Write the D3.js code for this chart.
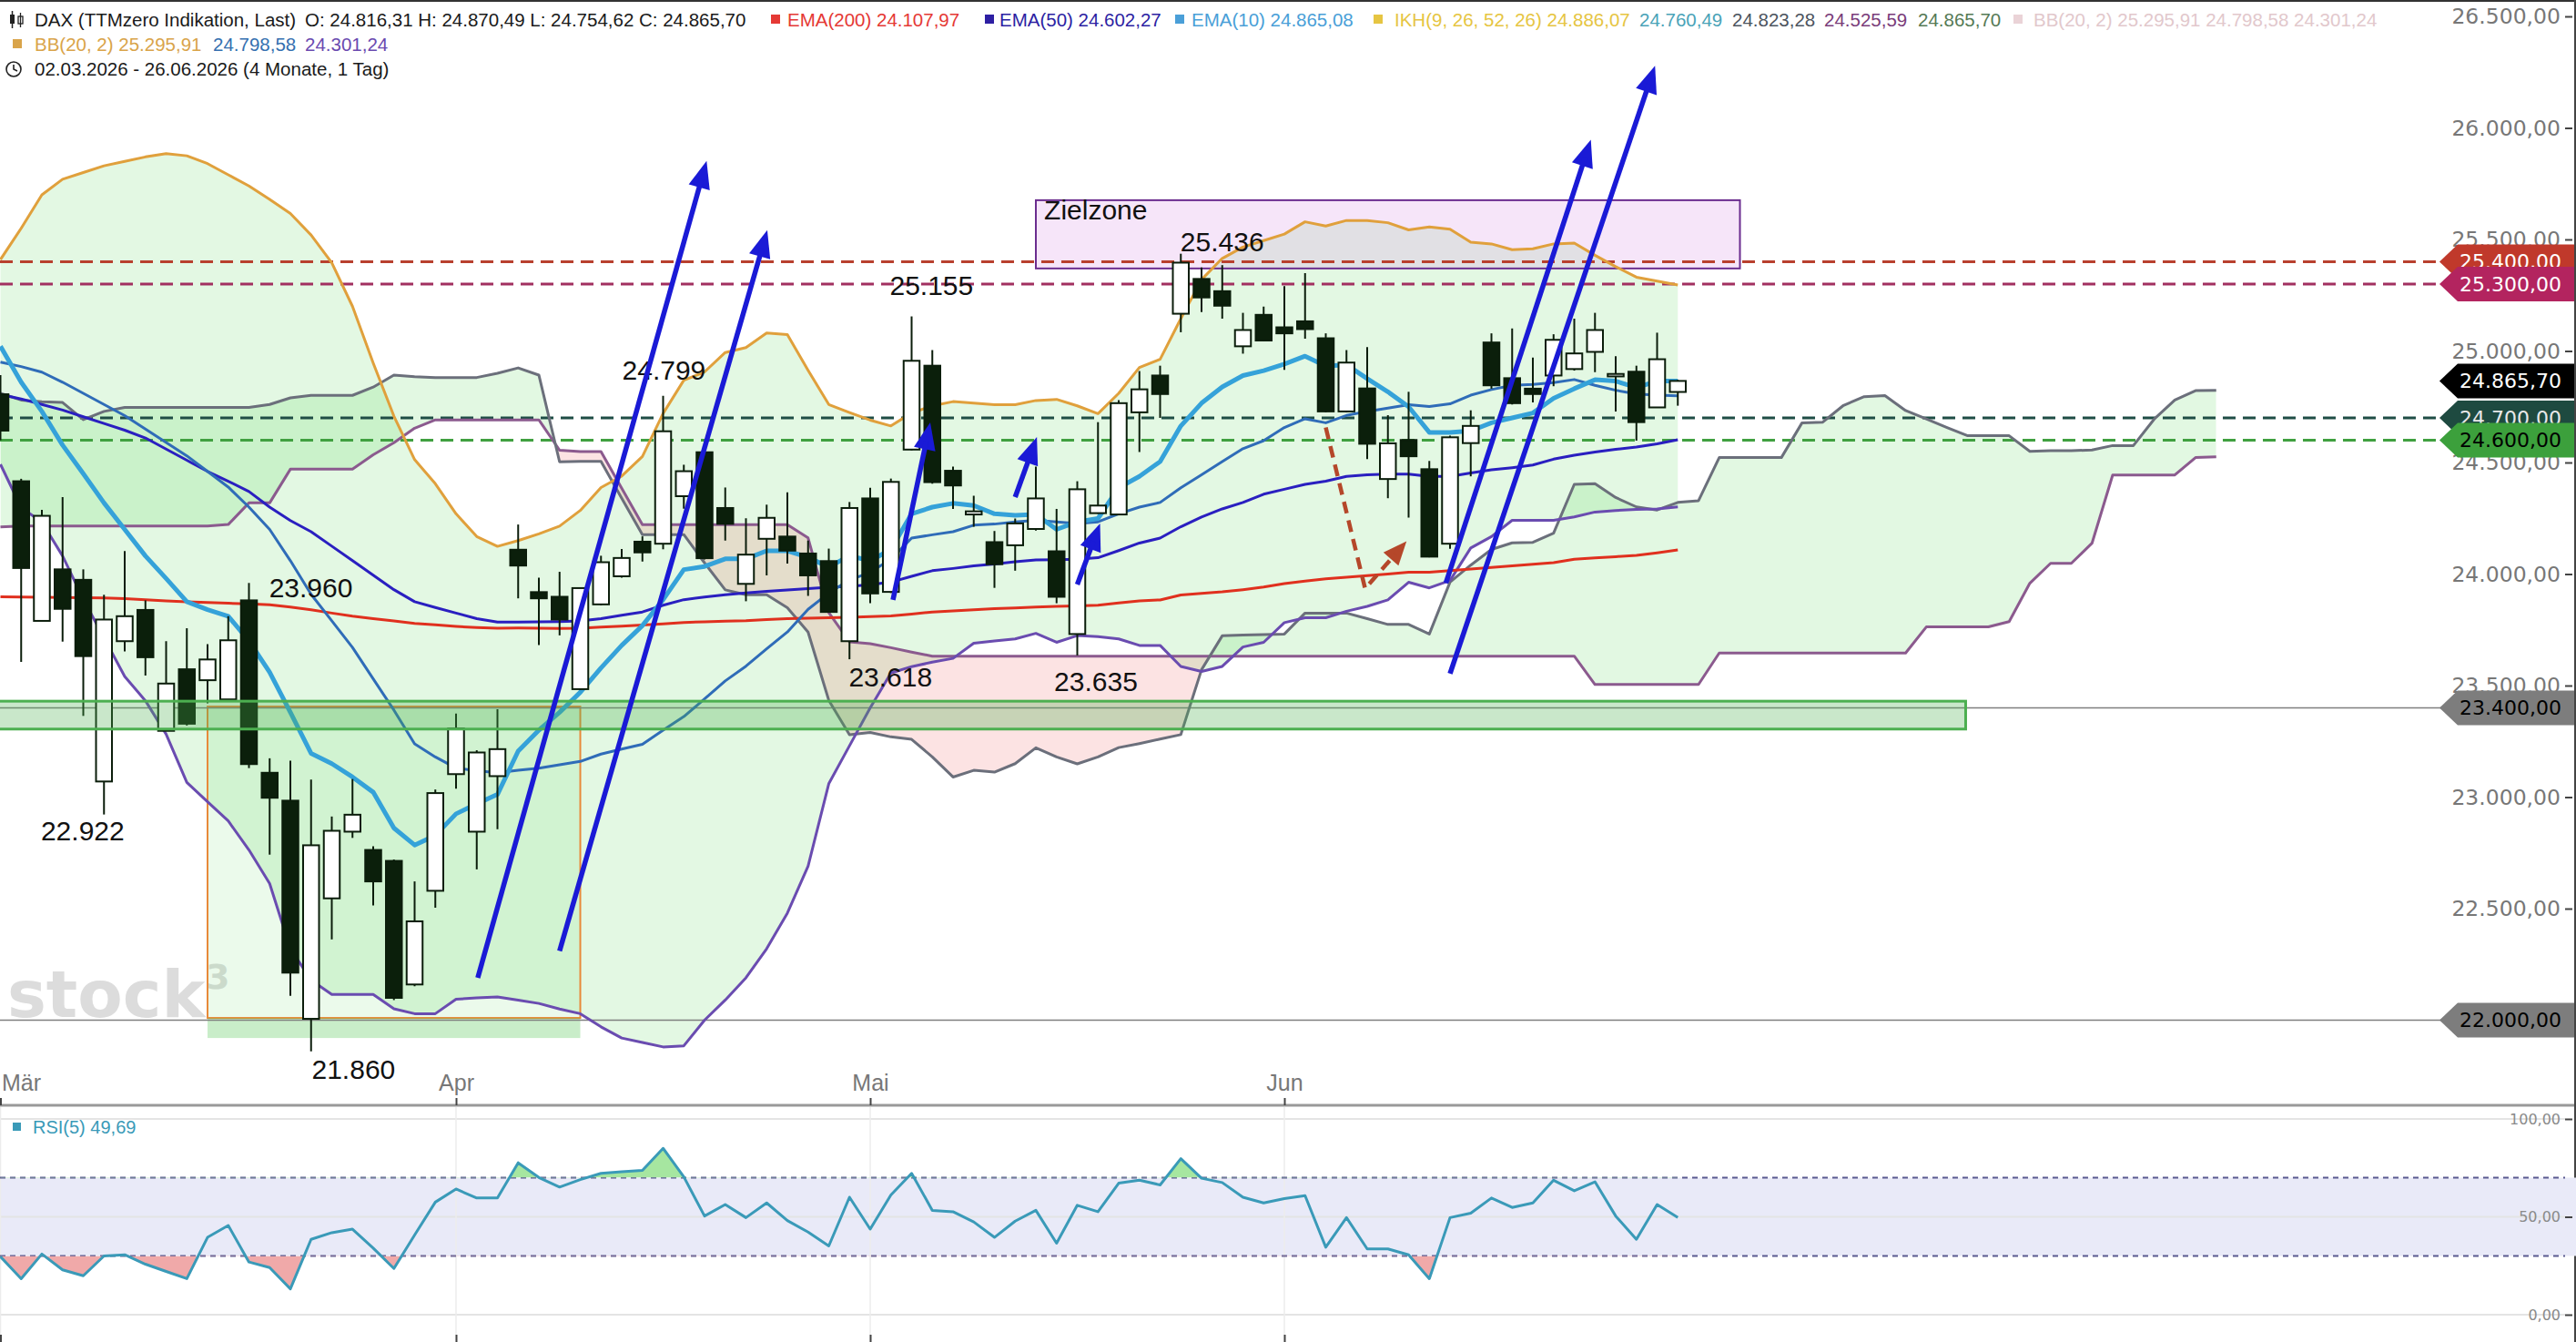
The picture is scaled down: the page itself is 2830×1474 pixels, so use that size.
<!DOCTYPE html>
<html>
<head>
<meta charset="utf-8">
<title>DAX</title>
<script src="https://cdn.jsdelivr.net/npm/d3@7"></script>
<style>
  body { margin: 0; background: #fff; }
  svg { display: block; font-family: "Liberation Sans", Arial, sans-serif; }
</style>
</head>
<body>
<svg id="chart"></svg>
<script>
// trading days 02.03.2026 - 26.06.2026
const dates = [
  "02.03","03.03","04.03","05.03","06.03","09.03","10.03","11.03","12.03","13.03",
  "16.03","17.03","18.03","19.03","20.03","23.03","24.03","25.03","26.03","27.03",
  "30.03","31.03","01.04","02.04","07.04","08.04","09.04","10.04","13.04","14.04",
  "15.04","16.04","17.04","20.04","21.04","22.04","23.04","24.04","27.04","28.04",
  "29.04","30.04","04.05","05.05","06.05","07.05","08.05","11.05","12.05","13.05",
  "14.05","15.05","18.05","19.05","20.05","21.05","22.05","25.05","26.05","27.05",
  "28.05","29.05","01.06","02.06","03.06","04.06","05.06","08.06","09.06","10.06",
  "11.06","12.06","15.06","16.06","17.06","18.06","19.06","22.06","23.06","24.06",
  "25.06","26.06"];
const monthTicks = [0, 22, 42, 62];
const monthNames = ["Mär", "Apr", "Mai", "Jun"];

const open = [
  24806,24416,23790,24021,23974,23070,23699,23839,23297,23573,
  23524,23438,23882,23109,22984,22006,22546,22845,22763,22714,
  22160,22580,23103,22845,23094,24109,23919,23898,23484,23864,
  23990,24145,24136,24349,24546,24296,23956,24158,24168,24092,
  24058,23699,24339,23920,24558,24934,24463,24267,24143,24129,
  24202,24102,23731,24273,24267,24725,24890,25167,25323,25268,
  25021,25162,25106,25133,25057,24729,24832,24426,24601,24470,
  24136,24587,25038,24878,24831,24890,24919,24996,24886,24907,
  24747,24816.31];
const high = [
  24892,24427,24288,24345,24021,23907,24103,23882,23699,23757,
  23686,23811,23960,23174,23163,23079,22913,23081,22780,22720,
  22622,23034,23375,23210,23394,24222,23984,24010,23940,24082,
  24112,24169,24799,24490,24550,24388,24250,24311,24366,24150,
  24114,24323,24387,24428,25155,25004,24482,24351,24193,24249,
  24482,24292,24416,24681,24780,24910,24934,25436,25375,25385,
  25171,25199,25291,25349,25079,25004,25017,24712,24817,24507,
  24620,24734,25079,25101,24970,25075,25145,25171,24977,24934,
  25082,24870.49];
const low = [
  24600,23606,23790,23697,23364,22922,23653,23545,23297,23321,
  23420,23438,23130,22742,22109,21860,22362,22817,22514,22090,
  22152,22504,23038,22676,22856,23891,23682,23725,23480,23860,
  23984,24056,24111,24293,24065,24150,23878,23994,24047,23902,
  23827,23618,23869,23915,24555,24405,24292,24212,23938,24015,
  24195,23869,23635,24270,24265,24547,24700,25084,25174,25145,
  24988,25043,24915,25055,24725,24725,24515,24340,24253,24075,
  24113,24438,24831,24760,24769,24842,24912,24905,24729,24598,
  24745,24754.62];
const close = [
  24643,24027,24261,23844,23632,23796,23811,23627,23509,23329,
  23617,23703,23148,22997,22213,22784,22849,22921,22622,22100,
  22443,23018,23308,23200,23215,24038,23891,23796,23937,24053,
  24072,24097,24640,24461,24071,24225,24087,24252,24105,23994,
  23830,24296,23913,24413,24956,24412,24397,24281,24044,24227,
  24339,23898,24380,24307,24766,24828,24807,25396,25240,25203,
  25094,25047,25079,25098,24729,24948,24584,24586,24528,24078,
  24613,24664,24846,24766,24807,25050,24989,25094,24897,24681,
  24963,24865.70];

const ema200 = [
  23898,23897,23896,23895,23894,23893,23890,23885,23880,23876,
  23872,23869,23866,23862,23852,23840,23825,23811,23800,23790,
  23779,23772,23765,23760,23757,23758,23757,23756,23757,23762,
  23766,23771,23777,23783,23786,23789,23791,23796,23800,23802,
  23804,23806,23809,23812,23820,23830,23835,23840,23845,23848,
  23852,23855,23857,23860,23870,23880,23884,23906,23913,23920,
  23930,23942,23957,23968,23979,23986,23993,24000,24008,24008,
  24015,24022,24030,24037,24044,24051,24066,24072,24078,24084,
  24095,24107.97];
const ema50 = [
  24805,24785,24760,24735,24705,24675,24645,24610,24560,24510,
  24460,24416,24370,24300,24240,24190,24125,24060,23995,23930,
  23876,23850,23825,23800,23785,23785,23786,23787,23790,23800,
  23815,23830,23860,23885,23897,23907,23915,23922,23929,23935,
  23941,23945,23952,23964,23990,24015,24025,24037,24045,24055,
  24063,24064,24066,24073,24105,24139,24161,24212,24256,24292,
  24321,24358,24380,24402,24416,24438,24445,24448,24448,24438,
  24438,24453,24467,24477,24489,24515,24533,24547,24559,24569,
  24584,24602.27];
const ema10 = [
  25021,24860,24729,24578,24450,24319,24200,24081,23980,23876,
  23840,23811,23700,23560,23380,23196,23150,23090,23022,22861,
  22785,22828,22925,22970,23012,23206,23300,23380,23470,23579,
  23680,23769,23885,24020,24034,24068,24068,24104,24104,24075,
  24031,24082,24059,24110,24270,24300,24317,24307,24270,24263,
  24267,24200,24234,24249,24387,24438,24504,24664,24766,24839,
  24890,24912,24941,24977,24933,24938,24876,24817,24750,24635,
  24635,24642,24678,24700,24722,24788,24831,24871,24865,24836,
  24865,24865.08];
const bbUpper = [
  25410,25550,25700,25770,25800,25830,25850,25870,25885,25875,
  25840,25790,25740,25680,25616,25520,25395,25200,24946,24708,
  24513,24405,24270,24168,24124,24150,24180,24215,24285,24388,
  24439,24527,24720,24869,24906,24993,25015,25081,25073,24913,
  24760,24724,24690,24664,24722,24754,24773,24766,24759,24759,
  24778,24783,24754,24719,24810,24926,24963,25145,25320,25415,
  25466,25495,25524,25579,25560,25585,25585,25575,25543,25556,
  25546,25488,25480,25454,25458,25480,25484,25429,25378,25331,
  25313,25295.91];
const bbMiddle = [
  24950,24930,24905,24860,24810,24760,24710,24650,24590,24530,
  24460,24390,24300,24200,24060,23909,23790,23671,23530,23390,
  23239,23180,23130,23118,23109,23120,23130,23145,23160,23193,
  23215,23237,23300,23361,23440,23521,23587,23665,23740,23842,
  23915,23973,24008,24066,24161,24176,24190,24219,24224,24234,
  24241,24234,24227,24234,24270,24300,24321,24387,24445,24504,
  24562,24598,24657,24696,24678,24711,24729,24744,24759,24751,
  24763,24802,24827,24846,24850,24858,24872,24846,24824,24807,
  24802,24798.58];
const bbLower = [
  24492,24298,24233,24081,23887,23714,23541,23432,23282,23066,
  22979,22893,22763,22612,22320,22180,22115,22115,22115,22051,
  22029,22029,22094,22100,22104,22090,22075,22050,22029,21970,
  21920,21900,21880,21885,22000,22090,22190,22320,22480,22690,
  23060,23230,23400,23556,23585,23605,23622,23690,23700,23709,
  23734,23694,23724,23719,23709,23680,23680,23586,23563,23586,
  23673,23694,23782,23804,23804,23833,23855,23884,23963,23938,
  23971,24117,24168,24241,24241,24241,24256,24278,24285,24290,
  24292,24301.24];

// Ichimoku spans, shifted 26 days ahead (108 points)
const senkouA = [
  24810,24780,24772,24769,24692,24729,24747,24747,24747,24747,
  24747,24747,24747,24760,24790,24801,24801,24801,24838,24892,
  24885,24881,24881,24881,24900,24924,24892,24503,24505,24505,
  24340,24177,24177,24177,24050,23929,23907,23907,23849,23740,
  23434,23280,23290,23270,23259,23180,23090,23120,23112,23150,
  23221,23180,23149,23180,23222,23240,23260,23280,23571,23723,
  23727,23729,23731,23825,23825,23825,23800,23774,23774,23731,
  23964,24040,24110,24140,24142,24183,24402,24405,24343,24301,
  24287,24321,24329,24522,24522,24522,24522,24678,24681,24756,
  24795,24800,24733,24695,24657,24620,24620,24620,24550,24553,
  24553,24556,24576,24576,24694,24780,24822,24823.28];
const senkouB = [
  24211,24215,24215,24215,24215,24215,24215,24215,24215,24215,
  24215,24222,24319,24319,24470,24470,24470,24470,24535,24589,
  24654,24691,24691,24691,24691,24691,24691,24555,24549,24549,
  24385,24221,24221,24221,24221,24221,24221,24221,24221,24162,
  23827,23696,23688,23670,23650,23632,23632,23632,23632,23632,
  23632,23632,23632,23632,23632,23632,23632,23632,23632,23632,
  23632,23632,23632,23632,23632,23632,23632,23632,23632,23632,
  23632,23632,23632,23632,23632,23632,23632,23505,23505,23505,
  23505,23505,23505,23646,23646,23646,23646,23646,23646,23646,
  23646,23646,23646,23763,23763,23763,23763,23787,23959,24048,
  24048,24138,24444,24444,24444,24444,24522,24525.59];
const ikhLast = [24886.07, 24760.49]; // tenkan, kijun (legend only)

const rsi = [
  29.6,18.4,31.0,22.9,19.9,30.0,30.6,25.8,22.1,18.4,
  39.5,45.6,26.9,24.1,13.2,38.5,41.9,43.7,34.0,23.6,
  40.7,57.5,64.2,59.6,59.6,77.6,70.1,65.2,69.0,72.2,
  73.0,73.7,85.0,70.4,50.4,56.3,49.6,57.1,48.1,42.2,
  35.1,60.0,43.7,61.2,72.2,53.3,52.6,47.4,39.5,47.8,
  53.3,36.5,55.9,52.6,67.2,68.7,66.3,79.7,69.7,67.5,
  60.0,57.1,59.3,60.8,34.5,49.6,33.6,33.6,30.6,18.4,
  49.6,51.9,59.6,54.8,57.1,68.7,63.3,67.9,50.4,38.5,
  56.3,49.69];

const priceTicks = [22000, 22500, 23000, 23500, 24000, 24500, 25000, 25500, 26000, 26500];
const rsiTicks = [0, 50, 100];
const levelValues = [25400, 25300, 24700, 24600, 23400, 22000];

// chart annotations (day index, price)
const pivotLabels = [
  { text: "22.922", i: 3.97, p: 22847 },
  { text: "23.960", i: 14.99, p: 23937 },
  { text: "21.860", i: 17.05, p: 21779 },
  { text: "24.799", i: 32.04, p: 24916 },
  { text: "25.155", i: 44.96, p: 25292 },
  { text: "23.618", i: 42.98, p: 23539 },
  { text: "23.635", i: 52.9, p: 23517 },
  { text: "25.436", i: 59.0, p: 25491 }
];
const trendArrows = [
  [23.05, 22190, 34.1, 25852],
  [27.0, 22310, 37.03, 25542],
  [43.1, 23884, 44.9, 24680],
  [49.0, 24345, 50.05, 24614],
  [52.0, 23953, 53.1, 24227],
  [69.8, 23960, 76.8, 25947],
  [70.0, 23554, 79.9, 26279]
];
const dropArrow = [[64, 24657], [65.9, 23935], [67.9, 24147]];
const zielzone = { i0: 50.0, i1: 84.0, p0: 25676, p1: 25370 };
const boxZone = { i0: 10.0, i1: 28.0, p0: 23406, p1: 22010, p2: 21920 };
const supportBand = { i1: 94.9, p0: 23430, p1: 23305 };

// ---------------------------------------------------------------
const W = 2830, H = 1474;
const svg = d3.select("#chart").attr("width", W).attr("height", H);
const de = d3.formatLocale({ decimal: ",", thousands: ".", grouping: [3], currency: ["", ""] });
const fmt2 = de.format(",.2f");
const n = close.length;

const x = d3.scaleLinear().domain([0, 107]).range([0.5, 0.5 + 22.75 * 107]);
const y = d3.scaleLinear().domain([22000, 26500]).range([1120.5, 18]);
const yr = d3.scaleLinear().domain([0, 100]).range([1444, 1229]);

const defs = svg.append("defs");
defs.append("clipPath").attr("id", "plotClip")
  .append("rect").attr("x", 0).attr("y", 0).attr("width", W).attr("height", 1213);

const plot = svg.append("g").attr("clip-path", "url(#plotClip)");

// bollinger fill
const bbArea = d3.area().x((d, i) => x(i)).y0((d, i) => y(bbLower[i])).y1(d => y(d));
plot.append("path").datum(bbUpper).attr("d", bbArea).attr("fill", "rgba(60,210,60,0.145)");

// ichimoku cloud, green where A above B, red otherwise
const cIdx = d3.range(senkouA.length);
const band = d3.area().x(i => x(i)).y0(i => y(senkouB[i])).y1(i => y(senkouA[i]));
defs.append("clipPath").attr("id", "cloudUp").append("path")
  .attr("d", d3.area().x(i => x(i)).y0(i => y(senkouB[i])).y1(0)(cIdx));
defs.append("clipPath").attr("id", "cloudDown").append("path")
  .attr("d", d3.area().x(i => x(i)).y0(i => y(senkouB[i])).y1(H)(cIdx));
plot.append("path").attr("d", band(cIdx)).attr("fill", "rgba(60,210,60,0.15)").attr("clip-path", "url(#cloudUp)");
plot.append("path").attr("d", band(cIdx)).attr("fill", "rgba(235,70,70,0.15)").attr("clip-path", "url(#cloudDown)");

// watermark
plot.append("text").attr("x", 8).attr("y", 1117).text("stock")
  .style("font-family", "DejaVu Sans").style("font-weight", "bold").style("font-size", "72px").attr("fill", "#dcdcdc");
plot.append("text").attr("x", 226).attr("y", 1086).text("3")
  .style("font-family", "DejaVu Sans").style("font-weight", "bold").style("font-size", "38px").attr("fill", "#dcdcdc");

// drawn zones
plot.append("rect")
  .attr("x", x(boxZone.i0)).attr("width", x(boxZone.i1) - x(boxZone.i0))
  .attr("y", y(boxZone.p0)).attr("height", y(boxZone.p1) - y(boxZone.p0))
  .attr("fill", "rgba(60,210,60,0.10)").attr("stroke", "#e8893a").attr("stroke-width", 2);
plot.append("rect")
  .attr("x", x(boxZone.i0)).attr("width", x(boxZone.i1) - x(boxZone.i0))
  .attr("y", y(boxZone.p1)).attr("height", y(boxZone.p2) - y(boxZone.p1))
  .attr("fill", "rgba(60,190,60,0.28)");
plot.append("rect")
  .attr("x", x(zielzone.i0)).attr("width", x(zielzone.i1) - x(zielzone.i0))
  .attr("y", y(zielzone.p0)).attr("height", y(zielzone.p1) - y(zielzone.p0))
  .attr("fill", "rgba(220,150,230,0.25)").attr("stroke", "#6b2d8f").attr("stroke-width", 2);
plot.append("text").attr("x", x(50.4)).attr("y", y(25631)).attr("dominant-baseline", "central")
  .style("font-size", "30px").attr("fill", "#111").text("Zielzone");

// horizontal levels
const levelStroke = ["#b8402e", "#a23060", "#1f4d45", "#40a040", "#7f7f7f", "#7f7f7f"];
const levelDash = ["14,8", "14,8", "14,8", "14,8", null, null];
levelValues.forEach((v, k) => {
  plot.append("line").attr("x1", 0).attr("x2", 2690).attr("y1", y(v)).attr("y2", y(v))
    .attr("stroke", levelStroke[k]).attr("stroke-width", levelDash[k] ? 3 : 1.6)
    .attr("stroke-dasharray", levelDash[k]);
});

// indicator lines
const line = d3.line().x((d, i) => x(i)).y(d => y(d));
const series = [
  [senkouB, "#8b5a8e", 3], [senkouA, "#6b6f7b", 3],
  [bbLower, "#6a4cb0", 3], [bbUpper, "#e0a03c", 3],
  [ema200, "#e0301e", 3], [ema50, "#2a1fc0", 3],
  [bbMiddle, "#2f6cb8", 3], [ema10, "#35a2d9", 5]
];
series.forEach(s => {
  plot.append("path").datum(s[0]).attr("d", line).attr("fill", "none")
    .attr("stroke", s[1]).attr("stroke-width", s[2]).attr("stroke-linejoin", "round");
});

// candles
const idx = d3.range(n);
const cg = plot.append("g");
cg.selectAll("line").data(idx).join("line")
  .attr("x1", i => x(i)).attr("x2", i => x(i))
  .attr("y1", i => y(high[i])).attr("y2", i => y(low[i]))
  .attr("stroke", "#0b1d0b").attr("stroke-width", 2);
cg.selectAll("rect").data(idx).join("rect")
  .attr("x", i => x(i) - 8.75).attr("width", 17.5)
  .attr("y", i => y(Math.max(open[i], close[i])))
  .attr("height", i => Math.max(2, Math.abs(y(open[i]) - y(close[i]))))
  .attr("fill", i => close[i] >= open[i] ? "#fff" : "#0b1f0b")
  .attr("stroke", "#0b1d0b").attr("stroke-width", 2);

// support band around 23.400
plot.append("rect").attr("x", -2).attr("width", x(supportBand.i1) + 2)
  .attr("y", y(supportBand.p0)).attr("height", y(supportBand.p1) - y(supportBand.p0))
  .attr("fill", "rgba(76,175,80,0.3)").attr("stroke", "#4caf50").attr("stroke-width", 3);

// pivot labels
plot.selectAll("text.piv").data(pivotLabels).join("text").attr("class", "piv")
  .attr("x", d => x(d.i)).attr("y", d => y(d.p)).attr("text-anchor", "middle")
  .attr("dominant-baseline", "central").style("font-size", "30px").attr("fill", "#111")
  .text(d => d.text);

// arrows
function arrowHead(g, x1, y1, x2, y2, color, len, half) {
  const a = Math.atan2(y2 - y1, x2 - x1);
  const bx = x2 - len * Math.cos(a), by = y2 - len * Math.sin(a);
  const px = -Math.sin(a) * half, py = Math.cos(a) * half;
  g.append("polygon").attr("points", [[x2, y2], [bx + px, by + py], [bx - px, by - py]].map(p => p.join(",")).join(" "))
    .attr("fill", color);
  return [x2 - len * 0.7 * Math.cos(a), y2 - len * 0.7 * Math.sin(a)];
}
const ag = plot.append("g");
trendArrows.forEach(a => {
  const x1 = x(a[0]), y1 = y(a[1]), x2 = x(a[2]), y2 = y(a[3]);
  const e = arrowHead(ag, x1, y1, x2, y2, "#1a1ad6", 30, 12);
  ag.append("line").attr("x1", x1).attr("y1", y1).attr("x2", e[0]).attr("y2", e[1])
    .attr("stroke", "#1a1ad6").attr("stroke-width", 5.5);
});
{
  const pts = dropArrow.map(p => [x(p[0]), y(p[1])]);
  const last = pts[pts.length - 1], prev = pts[pts.length - 2];
  const e = arrowHead(ag, prev[0], prev[1], last[0], last[1], "#b5472a", 26, 11);
  ag.append("path").attr("d", d3.line()([pts[0], pts[1], e])).attr("fill", "none")
    .attr("stroke", "#b5472a").attr("stroke-width", 4.5).attr("stroke-dasharray", "13,8");
}

// panel frame
svg.append("line").attr("x1", 0).attr("x2", W).attr("y1", 1).attr("y2", 1).attr("stroke", "#333").attr("stroke-width", 2);
svg.append("line").attr("x1", 0).attr("x2", W).attr("y1", 1214).attr("y2", 1214).attr("stroke", "#999").attr("stroke-width", 3);

// price axis (the 22.000 label sits under its level box, as in the original)
const yAxis = svg.append("g").attr("transform", "translate(2826,0)")
  .call(d3.axisLeft(y).tickValues(priceTicks).tickFormat(v => v === levelValues[5] ? "" : fmt2(v)).tickSize(8).tickPadding(5));
yAxis.select(".domain").remove();
yAxis.selectAll("line").attr("stroke", "#444").attr("stroke-width", 2);
yAxis.selectAll("text").attr("fill", "#777").style("font-family", "DejaVu Sans").style("font-size", "23.5px");

// level boxes on the axis
const boxes = [
  [levelValues[0], "#c0392b", "#fff"], [levelValues[1], "#b3245f", "#fff"],
  [close[n - 1], "#000", "#fff"], [levelValues[2], "#1e4a40", "#e8e8e8"],
  [levelValues[3], "#3ca03c", "#000"], [levelValues[4], "#7d7d7d", "#000"],
  [levelValues[5], "#7d7d7d", "#000"]
];
const bg = svg.append("g");
boxes.forEach(b => {
  const cy = y(b[0]), h = 19;
  bg.append("polygon")
    .attr("points", `2680,${cy} 2700,${cy - h} ${W},${cy - h} ${W},${cy + h} 2700,${cy + h}`)
    .attr("fill", b[1]);
  bg.append("text").attr("x", 2814).attr("y", cy).attr("text-anchor", "end").attr("dominant-baseline", "central")
    .style("font-family", "DejaVu Sans").style("font-size", "22px").attr("fill", b[2]).text(fmt2(b[0]));
});
svg.append("line").attr("x1", 2829).attr("x2", 2829).attr("y1", 0).attr("y2", H).attr("stroke", "#444").attr("stroke-width", 2);

// month axis
const xAxis = svg.append("g").attr("transform", "translate(0,1214)")
  .call(d3.axisTop(x).tickValues(monthTicks).tickFormat((d, k) => monthNames[k]).tickSize(8).tickPadding(8));
xAxis.select(".domain").remove();
xAxis.selectAll("line").attr("stroke", "#444").attr("stroke-width", 2);
xAxis.selectAll("text").attr("fill", "#777").style("font-size", "25px");
xAxis.select(".tick text").attr("text-anchor", "start").attr("dx", 1);

// RSI panel
const rg = svg.append("g");
rg.append("rect").attr("x", 0).attr("width", W).attr("y", yr(70)).attr("height", yr(30) - yr(70)).attr("fill", "#e9eaf8");
rsiTicks.forEach(v => rg.append("line").attr("x1", 0).attr("x2", 2818).attr("y1", yr(v)).attr("y2", yr(v))
  .attr("stroke", "#e4e4e4").attr("stroke-width", 2));
monthTicks.forEach(t => rg.append("line").attr("x1", x(t)).attr("x2", x(t)).attr("y1", 1216).attr("y2", H)
  .attr("stroke", "#ececec").attr("stroke-width", 1.5));
[70, 30].forEach(v => rg.append("line").attr("x1", 0).attr("x2", 2818).attr("y1", yr(v)).attr("y2", yr(v))
  .attr("stroke", "#5a5a90").attr("stroke-width", 2).attr("stroke-dasharray", "6,5"));
defs.append("clipPath").attr("id", "rsiHi").append("rect").attr("x", 0).attr("y", 1214).attr("width", W).attr("height", yr(70) - 1214);
defs.append("clipPath").attr("id", "rsiLo").append("rect").attr("x", 0).attr("y", yr(30)).attr("width", W).attr("height", H - yr(30));
const rx = (d, i) => x(i);
rg.append("path").datum(rsi).attr("d", d3.area().x(rx).y0(yr(70)).y1(d => yr(d)))
  .attr("fill", "#a6e6a0").attr("clip-path", "url(#rsiHi)");
rg.append("path").datum(rsi).attr("d", d3.area().x(rx).y0(yr(30)).y1(d => yr(d)))
  .attr("fill", "#f0a9a9").attr("clip-path", "url(#rsiLo)");
rg.append("path").datum(rsi).attr("d", d3.line().x(rx).y(d => yr(d))).attr("fill", "none")
  .attr("stroke", "#3a9ab8").attr("stroke-width", 3).attr("stroke-linejoin", "round");
const rAxis = svg.append("g").attr("transform", "translate(2826,0)")
  .call(d3.axisLeft(yr).tickValues(rsiTicks).tickFormat(fmt2).tickSize(8).tickPadding(5));
rAxis.select(".domain").remove();
rAxis.selectAll("line").attr("stroke", "#444").attr("stroke-width", 2);
rAxis.selectAll("text").attr("fill", "#8a8a8a").style("font-family", "DejaVu Sans").style("font-size", "16px");
const bAxis = svg.append("g").attr("transform", `translate(0,${H})`)
  .call(d3.axisTop(x).tickValues(monthTicks).tickFormat("").tickSize(8));
bAxis.select(".domain").remove();
bAxis.selectAll("line").attr("stroke", "#444").attr("stroke-width", 2);
rg.append("rect").attr("x", 14).attr("y", 1233).attr("width", 9).attr("height", 9).attr("fill", "#3a9ab8");
rg.append("text").attr("x", 36).attr("y", 1245).style("font-size", "20px").attr("fill", "#3a9ab8")
  .text("RSI(5) " + fmt2(rsi[n - 1]));

// legend header
const hdr = svg.append("g").style("font-size", "20.5px").style("white-space", "pre");
function htext(xp, yp, txt, col) { hdr.append("text").attr("x", xp).attr("y", yp).attr("fill", col).text(txt); }
function hsq(xp, yp, col) { hdr.append("rect").attr("x", xp).attr("y", yp - 13).attr("width", 10).attr("height", 10).attr("fill", col); }
hdr.append("rect").attr("x", 11).attr("y", 16).attr("width", 5).attr("height", 10).attr("fill", "#222");
hdr.append("line").attr("x1", 13.5).attr("x2", 13.5).attr("y1", 12).attr("y2", 31).attr("stroke", "#222").attr("stroke-width", 1.5);
hdr.append("rect").attr("x", 20).attr("y", 18).attr("width", 5).attr("height", 8).attr("fill", "none").attr("stroke", "#222").attr("stroke-width", 1.3);
hdr.append("line").attr("x1", 22.5).attr("x2", 22.5).attr("y1", 14).attr("y2", 30).attr("stroke", "#222").attr("stroke-width", 1.3);
htext(38, 29, "DAX (TTMzero Indikation, Last)", "#1a1a1a");
htext(335, 29, `O: ${fmt2(open[n - 1])} H: ${fmt2(high[n - 1])} L: ${fmt2(low[n - 1])} C: ${fmt2(close[n - 1])}`, "#1a1a1a");
hsq(847, 29, "#e53935"); htext(865, 29, `EMA(200) ${fmt2(ema200[n - 1])}`, "#e53935");
hsq(1082, 29, "#2d1fa3"); htext(1098, 29, `EMA(50) ${fmt2(ema50[n - 1])}`, "#2d1fa3");
hsq(1291, 29, "#4a9fd8"); htext(1309, 29, `EMA(10) ${fmt2(ema10[n - 1])}`, "#4a9fd8");
hsq(1509, 29, "#e6c542"); htext(1532, 29, `IKH(9, 26, 52, 26) ${fmt2(ikhLast[0])}`, "#e6c542");
htext(1801, 29, fmt2(ikhLast[1]), "#4aa3b8");
htext(1903, 29, fmt2(senkouA[senkouA.length - 1]), "#4d5560");
htext(2004, 29, fmt2(senkouB[senkouB.length - 1]), "#7a3d7a");
htext(2107, 29, fmt2(close[n - 1]), "#567a56");
hsq(2212, 29, "#ead3d7"); htext(2234, 29, `BB(20, 2) ${fmt2(bbUpper[n - 1])}  ${fmt2(bbMiddle[n - 1])}  ${fmt2(bbLower[n - 1])}`, "#e2c8cc");
hsq(14, 56, "#d9a44a"); htext(38, 56, `BB(20, 2) ${fmt2(bbUpper[n - 1])}`, "#d9a44a");
htext(234, 56, fmt2(bbMiddle[n - 1]), "#3570b0");
htext(335, 56, fmt2(bbLower[n - 1]), "#6a4ab0");
hdr.append("circle").attr("cx", 15).attr("cy", 76).attr("r", 8).attr("fill", "none").attr("stroke", "#222").attr("stroke-width", 1.6);
hdr.append("path").attr("d", "M15,71 L15,76 L19,78").attr("fill", "none").attr("stroke", "#222").attr("stroke-width", 1.6);
htext(38, 83, `${dates[0]}.2026 - ${dates[n - 1]}.2026  (4 Monate, 1 Tag)`, "#1a1a1a");
</script>
</body>
</html>
